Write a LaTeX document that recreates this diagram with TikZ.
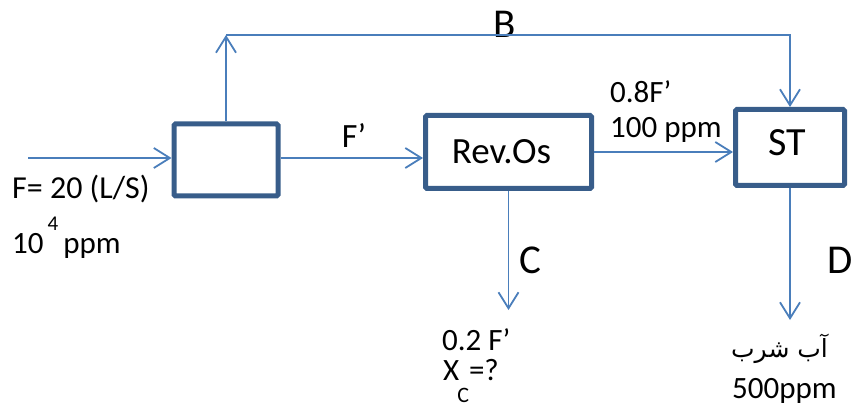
\documentclass[tikz,border=0pt]{standalone}
\usepackage{fontspec}
\setmainfont{Carlito}
\newfontfamily\arabicfont[Script=Arabic]{DejaVu Sans}
\TeXXeTstate=1
\usetikzlibrary{arrows.meta}
\definecolor{boxblue}{HTML}{385D8A}
\definecolor{lineblue}{HTML}{4A7EBB}
\begin{document}
\begin{tikzpicture}[
x=1pt,
y=-1pt,
unit/.style={draw=boxblue,line width=5pt,rounded corners=1.5pt,inner sep=0pt,font=\fontsize{37}{42}\selectfont},
flow/.style={draw=lineblue,line width=1.8pt,-{Straight Barb[length=16pt,width=20pt,line width=1.8pt]}},
big/.style={font=\fontsize{41}{45}\selectfont,inner sep=0pt},
small/.style={font=\fontsize{31}{34}\selectfont,anchor=base west,inner sep=0pt}
]
\useasboundingbox (0,0) rectangle (851,406);

\node[unit,minimum width=104pt,minimum height=72pt] (split) at (226,160) {};
\node[unit,minimum width=166pt,minimum height=73pt] (ro) at (508.5,152) {Rev.Os\kern14pt};
\node[unit,minimum width=109pt,minimum height=76pt,font=\fontsize{40}{44}\selectfont] (st) at (790,147.5) {\raisebox{9pt}{ST}\kern6pt};

\coordinate (feed) at (28,158);
\coordinate (topl) at (226,35);
\coordinate (cout) at (509,310);
\coordinate (dout) at (790,320);

\node[big] (lb) at (505,24) {B};
\node[font=\fontsize{34}{38}\selectfont,inner sep=0pt] (lf) at (354,136) {F’};
\node[big] (lc) at (530,260) {C};
\node[big] (ld) at (840,260) {D};

\draw[flow] (feed) -- (feed -| split.west);
\draw[flow] (feed -| split.east) -- (feed -| ro.west);
\draw[flow] (ro.east) -- (ro.east -| st.west);
\draw[flow] (split.north) -- (topl);
\draw[flow] (topl) -- (topl -| st.north) -- (st.north);
\draw[flow] (ro.south) -- (ro.south |- cout);
\draw[flow] (st.south) -- (dout);

\node[small,font=\fontsize{32}{35}\selectfont] (fin) at (12,199) {F= 20 (L/S)};
\node[small] (cin) at (12,253) {10\hspace{4pt}\raisebox{23pt}{\fontsize{21}{21}\selectfont 4}\hspace{5pt}ppm};
\node[small] (q1) at (610,103) {0.8F’};
\node[small] (q2) at (610,138) {100 ppm};
\node[small] (c1) at (442,350) {0.2 F’};
\node[small] (c2) at (443,380) {X\hspace{-2pt}\raisebox{-22pt}{\fontsize{22}{22}\selectfont C}=?};
\node[small,font=\fontsize{25}{29}\selectfont] (w1) at (731,357) {\arabicfont\beginR آب شرب\endR};
\node[small] (w2) at (732,398) {500ppm};
\end{tikzpicture}
\end{document}
